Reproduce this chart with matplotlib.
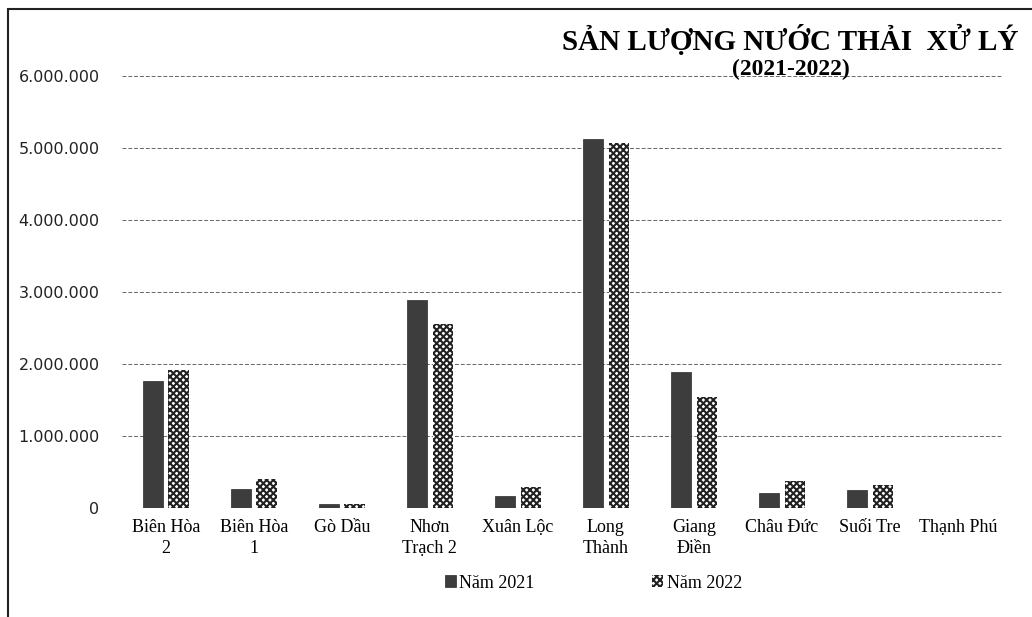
import numpy as np
import matplotlib.pyplot as plt
from matplotlib.ticker import FuncFormatter
from matplotlib.patches import Rectangle

plt.rcParams['hatch.linewidth'] = 1.5

# data
stations = ['Biên Hòa\n2', 'Biên Hòa\n1', 'Gò Dầu', 'Nhơn\nTrạch 2', 'Xuân Lộc',
            'Long\nThành', 'Giang\nĐiền', 'Châu Đức', 'Suối Tre', 'Thạnh Phú']
nam_2021 = [1760000, 260000, 50000, 2890000, 170000, 5130000, 1880000, 210000, 250000, 0]
nam_2022 = [1920000, 400000, 50000, 2560000, 290000, 5070000, 1540000, 375000, 320000, 0]
series_labels = ['Năm 2021', 'Năm 2022']
y_ticks = [0, 1000000, 2000000, 3000000, 4000000, 5000000, 6000000]

fig = plt.figure(figsize=(10.32, 6.17), dpi=100)
ax = fig.add_axes([0.118, 0.177, 0.853, 0.70])

x = np.arange(len(stations))
w = 0.23
b1 = ax.bar(x - 0.145, nam_2021, w, color='#3d3d3d', edgecolor='#2a2a2a', linewidth=0.5,
            label=series_labels[0], zorder=3)
b2 = ax.bar(x + 0.145, nam_2022, w, color='white', edgecolor='#222222', hatch='xxxxx',
            linewidth=0, label=series_labels[1], zorder=3)

ax.set_xlim(-0.5, len(stations) - 0.5)
ax.set_ylim(0, 6000000)
ax.set_yticks(y_ticks)
ax.yaxis.set_major_formatter(FuncFormatter(lambda v, p: f'{int(v):,}'.replace(',', '.')))
ax.grid(axis='y', color='#666666', linestyle=(0, (4, 2)), linewidth=0.7, zorder=0)
for s in ax.spines.values():
    s.set_visible(False)
ax.tick_params(axis='both', length=0)
ax.tick_params(axis='y', labelsize=11.5, pad=16, labelcolor='#222222')
ax.set_xticks(x)
ax.set_xticklabels(stations, fontfamily='Liberation Serif', fontsize=13, linespacing=1.3)
ax.tick_params(axis='x', pad=8)
ax.axhline(0, color='#666666', linestyle=(0, (4, 2)), linewidth=0.7, zorder=1)

fig.text(0.766, 0.935, 'SẢN LƯỢNG NƯỚC THẢI  XỬ LÝ', ha='center', va='center',
         fontfamily='Liberation Serif', fontweight='bold', fontsize=21)
fig.text(0.766, 0.888, '(2021-2022)', ha='center', va='center',
         fontfamily='Liberation Serif', fontweight='bold', fontsize=17)

leg = fig.legend(handles=[b1, b2], loc='center', bbox_to_anchor=(0.575, 0.055), ncol=2,
                 frameon=False, prop={'family': 'Liberation Serif', 'size': 13},
                 handlelength=0.6, handleheight=0.6, handletextpad=0.2, columnspacing=6.5)

# outer frame of the chart
fig.patches.append(Rectangle((0.008, -0.01), 1.2, 0.995, transform=fig.transFigure,
                             fill=False, edgecolor='#222222', linewidth=1.5))

fig.savefig('out.png', dpi=100)
